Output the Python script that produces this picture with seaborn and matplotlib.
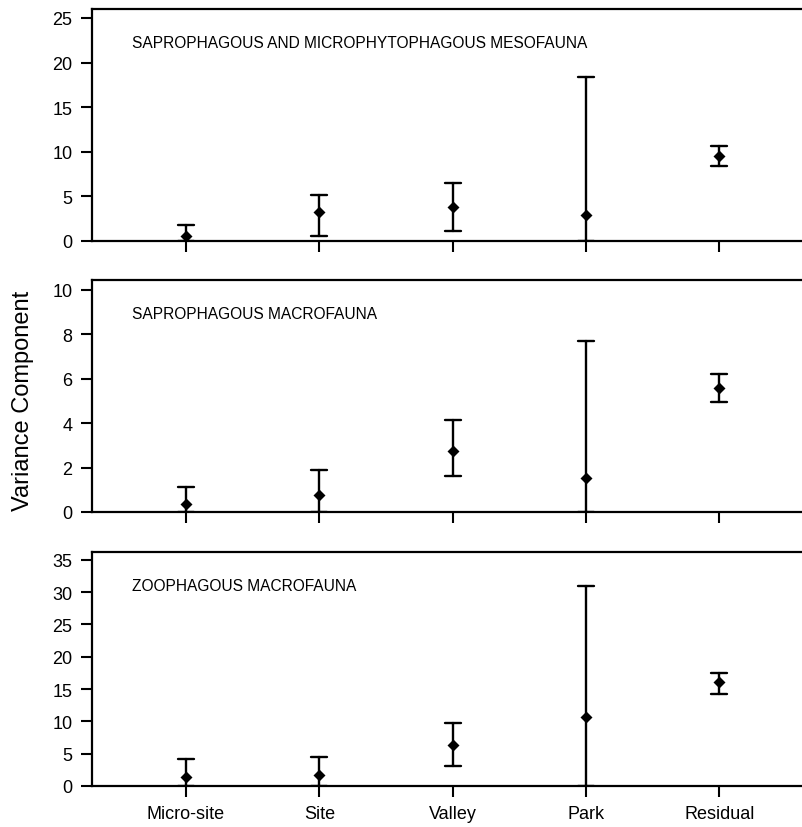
import numpy as np
import pandas as pd
import seaborn as sns
import matplotlib
matplotlib.use("Agg")
import matplotlib.pyplot as plt

components = ["Micro-site", "Site", "Valley", "Park", "Residual"]

panel_titles = [
    "SAPROPHAGOUS AND MICROPHYTOPHAGOUS MESOFAUNA",
    "SAPROPHAGOUS MACROFAUNA",
    "ZOOPHAGOUS MACROFAUNA",
]

# panel 1: saprophagous and microphytophagous mesofauna
meso_est = [0.56, 3.29, 3.77, 2.90, 9.57]
meso_low = [0.0, 0.60, 1.16, 0.0, 8.45]
meso_high = [1.79, 5.20, 6.46, 18.35, 10.70]

# panel 2: saprophagous macrofauna
sapro_est = [0.35, 0.77, 2.75, 1.53, 5.58]
sapro_low = [0.0, 0.0, 1.60, 0.0, 4.97]
sapro_high = [1.14, 1.89, 4.14, 7.72, 6.20]

# panel 3: zoophagous macrofauna
zoo_est = [1.34, 1.70, 6.35, 10.60, 16.06]
zoo_low = [0.0, 0.0, 3.15, 0.0, 14.25]
zoo_high = [4.13, 4.54, 9.80, 31.00, 17.55]

y_ticks = [
    [0, 5, 10, 15, 20, 25],
    [0, 2, 4, 6, 8, 10],
    [0, 5, 10, 15, 20, 25, 30, 35],
]
y_tops = [26.0, 10.45, 36.2]

series = [
    (meso_est, meso_low, meso_high),
    (sapro_est, sapro_low, sapro_high),
    (zoo_est, zoo_low, zoo_high),
]

sns.set_theme(style="white")
plt.rcParams["font.family"] = ["Liberation Sans", "DejaVu Sans"]

fig = plt.figure(figsize=(8.02, 8.28), dpi=100)

# axes rectangles [left, bottom, width, height] in figure fraction
left = 92 / 802
width = 1.0 - left
rects = [
    [left, 1 - 242 / 828, width, (242 - 10) / 828],
    [left, 1 - 513 / 828, width, (513 - 281) / 828],
    [left, 1 - 787 / 828, width, (787 - 553) / 828],
]

for i, (est, low, high) in enumerate(series):
    ax = fig.add_axes(rects[i])
    rows = []
    for c, e, lo, hi in zip(components, est, low, high):
        rows += [(c, lo), (c, e), (c, hi)]
    df = pd.DataFrame(rows, columns=["Component", "value"])
    sns.pointplot(
        data=df, x="Component", y="value", order=components,
        estimator="median", errorbar=("pi", 100),
        color="black", markers="D", linestyle="none",
        capsize=0.12, markersize=4.5,
        err_kws={"linewidth": 1.7}, ax=ax,
    )
    ax.set_xlim(-0.705, 4.62)
    ax.set_ylim(0, y_tops[i])
    ax.set_yticks(y_ticks[i])
    ax.set_yticklabels([str(t) for t in y_ticks[i]])
    ax.set_xlabel("")
    ax.set_ylabel("")
    for side in ["left", "top", "bottom"]:
        ax.spines[side].set_visible(True)
        ax.spines[side].set_color("black")
        ax.spines[side].set_linewidth(1.6)
    ax.spines["right"].set_visible(False)
    ax.tick_params(axis="both", direction="out", length=8, width=1.5,
                   color="black", labelsize=13, labelcolor="black")
    ax.tick_params(axis="y", pad=6, left=True)
    ax.tick_params(axis="x", pad=6, bottom=True)
    if i < 2:
        ax.set_xticklabels([])
    else:
        ax.set_xticklabels(components)
    ax.text(0.056, 0.855, panel_titles[i], transform=ax.transAxes,
            ha="left", va="center", fontsize=11.2, color="black")
    ax.grid(False)

fig.text(0.029, 0.516, "Variance Component", rotation=90,
         ha="center", va="center", fontsize=17, color="black")

fig.savefig("out.png", dpi=100)
